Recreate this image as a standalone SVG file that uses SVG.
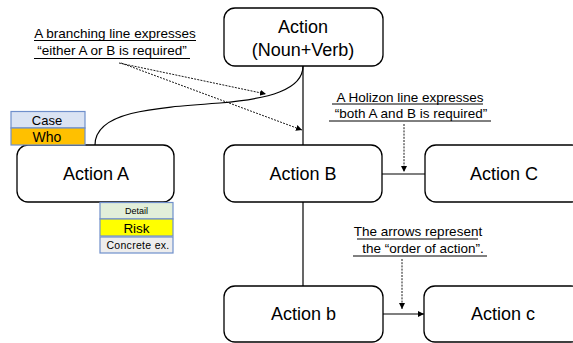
<svg xmlns="http://www.w3.org/2000/svg" width="573" height="343" viewBox="0 0 573 343">
  <style>
    .node rect { fill: #ffffff; stroke: #000000; stroke-width: 1.3; }
    .node text { font-family: "Liberation Sans", Arial, sans-serif; font-size: 18px; fill: #000000; text-anchor: middle; }
    .link { fill: none; stroke: #000000; stroke-width: 1.2; }
    .hint { fill: none; stroke: #000000; stroke-width: 0.9; stroke-dasharray: 2 1.2; }
    .note text { font-family: "Liberation Sans", Arial, sans-serif; font-size: 13.5px; fill: #000000; text-anchor: middle; }
    .note line { stroke: #000000; stroke-width: 1; }
    .tag rect { stroke: #6f8fcb; stroke-width: 1.2; }
    .tag text { font-family: "Liberation Sans", Arial, sans-serif; fill: #000000; text-anchor: middle; }
  </style>
  <defs>
    <marker id="tip" viewBox="0 0 10 10" refX="10" refY="5" markerWidth="6" markerHeight="6" markerUnits="userSpaceOnUse" orient="auto">
      <path d="M0,0 L10,5 L0,10 Z" fill="#000000"/>
    </marker>
  </defs>

  <rect width="573" height="343" fill="#ffffff"/>

  <!-- connectors -->
  <g id="connectors">
    <line class="link" x1="303" y1="66" x2="303" y2="286"/>
    <path class="link" d="M95,145 C95,112 150,108 220,103 C268,99 303,90 303,66"/>
    <line class="link" x1="382" y1="174" x2="425" y2="174"/>
    <line class="link" x1="383" y1="314" x2="424" y2="314" stroke-width="1" marker-end="url(#tip)"/>
    <!-- pointers from the notes -->
    <line class="hint" x1="119" y1="63" x2="266" y2="94" marker-end="url(#tip)"/>
    <line class="hint" x1="121" y1="63" x2="302" y2="130" marker-end="url(#tip)"/>
    <line class="hint" x1="404" y1="124" x2="404" y2="172" marker-end="url(#tip)"/>
    <line class="hint" x1="402" y1="259" x2="402" y2="309" marker-end="url(#tip)"/>
  </g>

  <!-- nodes -->
  <g id="action-top" class="node">
    <rect x="224" y="8" width="159" height="58" rx="11"/>
    <text x="303" y="33">Action</text>
    <text x="303" y="56">(Noun+Verb)</text>
  </g>
  <g id="action-a" class="node">
    <rect x="17" y="145" width="157" height="57" rx="11"/>
    <text x="96" y="180">Action A</text>
  </g>
  <g id="action-b" class="node">
    <rect x="224" y="145" width="158" height="57" rx="11"/>
    <text x="303" y="180">Action B</text>
  </g>
  <g id="action-c-upper" class="node">
    <rect x="425" y="145" width="158" height="57" rx="11"/>
    <text x="504" y="180">Action C</text>
  </g>
  <g id="action-b-lower" class="node">
    <rect x="224" y="286" width="159" height="56" rx="11"/>
    <text x="303.5" y="320">Action b</text>
  </g>
  <g id="action-c-lower" class="node">
    <rect x="424" y="286" width="158" height="56" rx="11"/>
    <text x="503" y="320">Action c</text>
  </g>

  <!-- attribute tags on Action A -->
  <g id="tag-case" class="tag">
    <rect x="11" y="111.5" width="74" height="16.5" fill="#dae3f3"/>
    <text x="47" y="124.5" font-size="13">Case</text>
  </g>
  <g id="tag-who" class="tag">
    <rect x="11" y="128" width="74" height="17" fill="#ffc000"/>
    <text x="47" y="141.5" font-size="14">Who</text>
  </g>
  <g id="tag-detail" class="tag">
    <rect x="100" y="202.5" width="73" height="16.5" fill="#e2efda"/>
    <text x="136.5" y="214" font-size="9">Detail</text>
  </g>
  <g id="tag-risk" class="tag">
    <rect x="100" y="219" width="73" height="17" fill="#ffff00"/>
    <text x="136.5" y="232.5" font-size="13.5">Risk</text>
  </g>
  <g id="tag-example" class="tag">
    <rect x="100" y="237" width="73" height="16" fill="#ededed"/>
    <text x="138" y="249" font-size="10.5" letter-spacing="0.3">Concrete ex.</text>
  </g>

  <!-- explanatory notes -->
  <g id="note-branch" class="note">
    <text x="115" y="38">A branching line expresses</text>
    <line x1="34" y1="40.5" x2="196" y2="40.5"/>
    <text x="112" y="55">“either A or B is required”</text>
    <line x1="34" y1="58.5" x2="190" y2="58.5"/>
  </g>
  <g id="note-horizontal" class="note">
    <text x="410" y="102">A Holizon line expresses</text>
    <line x1="332" y1="104" x2="483" y2="104"/>
    <text x="411" y="118">“both A and B is required”</text>
    <line x1="329" y1="121" x2="491" y2="121"/>
  </g>
  <g id="note-order" class="note">
    <text x="418" y="236">The arrows represent</text>
    <line x1="357" y1="239" x2="478" y2="239"/>
    <text x="423" y="253">the “order of action”.</text>
    <line x1="353" y1="256" x2="487" y2="256"/>
  </g>
</svg>
